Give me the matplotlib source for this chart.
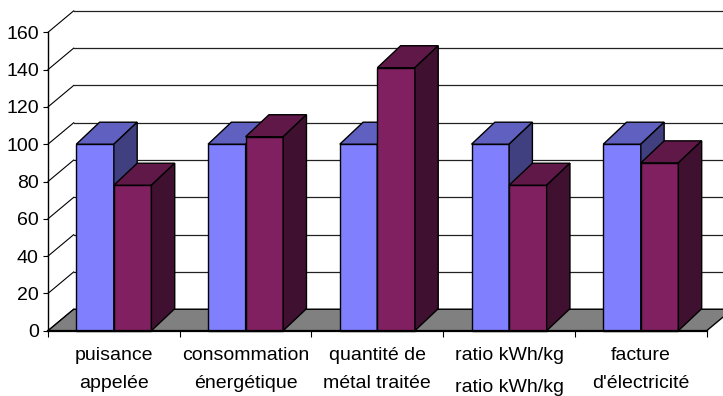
import matplotlib
matplotlib.use("Agg")
import matplotlib.pyplot as plt
from matplotlib.patches import Polygon

plt.rcParams['font.family'] = ['Liberation Sans', 'DejaVu Sans']

# ---- data ----
categories = ["puisance\nappelée", "consommation\nénergétique",
              "quantité de\nmétal traitée", "ratio kWh/kg\nratio kWh/kg",
              "facture\nd'électricité"]
series_before = [100, 100, 100, 100, 100]
series_after = [78, 104, 141, 78, 90]
y_ticks = [0, 20, 40, 60, 80, 100, 120, 140, 160]

# ---- style ----
W, H = 723, 396
BAR_W = 0.285
GROUP_START = 0.215
WALL_DX, WALL_DY = 0.195, 11.5     # depth of the chart box (data units)
BAR_DX, BAR_DY = 0.177, 11.8       # depth of each block (data units)
EDGE = 1.0
FONT = 14.0
shades = {
    "before": ("#8080FF", "#6060C0", "#404080"),
    "after": ("#802060", "#601848", "#401030"),
}

fig = plt.figure(figsize=(W / 100, H / 100), dpi=100)
ax = fig.add_axes([48 / W, (H - 330.7) / H, 658.7 / W, 298.4 / H])
n = len(categories)
ax.set_xlim(0, n)
ax.set_ylim(0, y_ticks[-1])

# back wall gridlines and left wall diagonals
for v in y_ticks:
    ax.plot([WALL_DX, n + WALL_DX + 0.5], [v + WALL_DY, v + WALL_DY],
            color="#222222", lw=0.9, clip_on=False, zorder=0.5)
    ax.plot([0, WALL_DX], [v, v + WALL_DY], color="black", lw=0.8,
            clip_on=False, zorder=0.5)

# floor
ax.add_patch(Polygon([(0, 0), (n, 0), (n + WALL_DX, WALL_DY), (WALL_DX, WALL_DY)],
                     closed=True, facecolor="#808080", edgecolor="black",
                     lw=EDGE, clip_on=False, zorder=0.6))


def block(x0, width, value, colors, z):
    front, top, side = colors
    ax.bar(x0, value, width=width, align="edge", color=front, edgecolor="black",
           linewidth=EDGE, zorder=z, clip_on=False)
    x1 = x0 + width
    ax.add_patch(Polygon([(x0, value), (x1, value), (x1 + BAR_DX, value + BAR_DY),
                          (x0 + BAR_DX, value + BAR_DY)], closed=True,
                         facecolor=top, edgecolor="black", lw=EDGE,
                         zorder=z, clip_on=False))
    ax.add_patch(Polygon([(x1, 0), (x1 + BAR_DX, BAR_DY),
                          (x1 + BAR_DX, value + BAR_DY), (x1, value)], closed=True,
                         facecolor=side, edgecolor="black", lw=EDGE,
                         zorder=z, clip_on=False))


z = 1.0
for i in range(n):
    x0 = i + GROUP_START
    block(x0, BAR_W, series_before[i], shades["before"], z)
    z += 0.01
    block(x0 + BAR_W, BAR_W, series_after[i], shades["after"], z)
    z += 0.01

# axes
for s in ("top", "right"):
    ax.spines[s].set_visible(False)
for s in ("left", "bottom"):
    ax.spines[s].set_linewidth(1.0)
    ax.spines[s].set_zorder(5)
ax.spines["bottom"].set_linewidth(1.6)

ax.set_yticks(y_ticks)
ax.set_yticklabels([str(v) for v in y_ticks], fontsize=FONT)
ax.tick_params(axis="y", direction="out", length=3.6, width=0.8, pad=3)

ax.set_xticks(range(n + 1))
ax.set_xticklabels([])
ax.set_xticks([i + 0.5 for i in range(n)], minor=True)
ax.set_xticklabels(categories, minor=True, fontsize=FONT, linespacing=1.8)
ax.tick_params(axis="x", which="major", direction="out", length=4, width=0.8)
ax.tick_params(axis="x", which="minor", length=0, pad=12)
ax.xaxis.get_minorticklabels()[3].set_linespacing(2.1)

fig.savefig("out.png", dpi=100)
